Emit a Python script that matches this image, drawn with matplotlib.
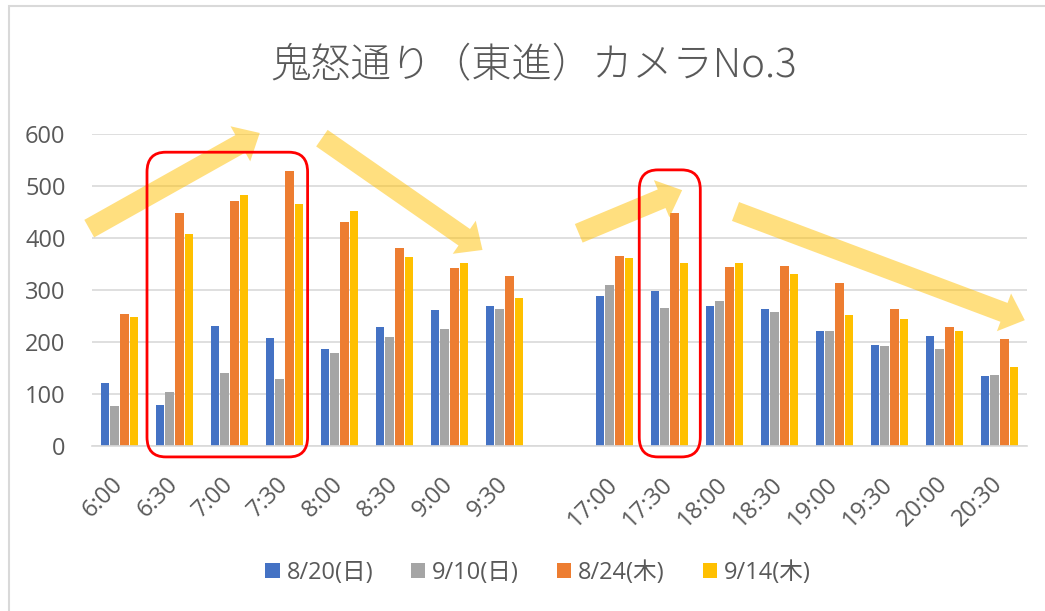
import numpy as np
import matplotlib.pyplot as plt
from matplotlib.patches import FancyBboxPatch, Rectangle

TXT = '#595959'; GRID = '#D9D9D9'
FONTS = ['Open Sans', 'Noto Sans CJK JP']
plt.rcParams['font.family'] = FONTS

times = ['6:00', '6:30', '7:00', '7:30', '8:00', '8:30', '9:00', '9:30', '',
         '17:00', '17:30', '18:00', '18:30', '19:00', '19:30', '20:00', '20:30']
series = ['8/20(日)', '9/10(日)', '8/24(木)', '9/14(木)']
colors = ['#4472C4', '#A5A5A5', '#ED7D31', '#FFC000']

nan = np.nan
aug20 = [121, 79, 231, 208, 186, 229, 261, 269, nan, 288, 299, 270, 263, 221, 195, 212, 135]
sep10 = [77, 103, 140, 128, 179, 209, 225, 263, nan, 309, 266, 279, 258, 222, 193, 187, 137]
aug24 = [253, 449, 472, 529, 431, 380, 343, 327, nan, 365, 448, 345, 347, 313, 263, 228, 206]
sep14 = [249, 408, 482, 465, 452, 364, 352, 284, nan, 361, 351, 352, 330, 252, 245, 222, 151]
values = [aug20, sep10, aug24, sep14]

# yellow trend arrows: (tail x, tail y, tip x, tip y) in category / count units
arrows = [(-0.55, 418, 2.55, 602), (3.68, 592, 6.60, 377),
          (8.35, 409, 10.23, 492), (11.20, 451, 16.46, 242)]
# red highlight boxes: (x0, x1, y0, y1)
boxes = [(0.50, 3.42, -21, 565), (9.45, 10.56, -21, 531)]

fig = plt.figure(figsize=(10.45, 6.11), dpi=100, facecolor='white')
ax = fig.add_axes([92/1045, 165/611, 935/1045, 312/611])

x = np.arange(len(times))
pitch = 0.18
for k, (name, vals, c) in enumerate(zip(series, values, colors)):
    ax.bar(x + (k - 1.5) * pitch, vals, width=0.15, color=c, label=name, zorder=2)

ax.set_xlim(-0.5, len(times) - 0.5)
ax.set_ylim(0, 600)
ax.set_yticks(range(0, 601, 100))
ax.yaxis.grid(True, color=GRID, lw=1.2, zorder=0)
ax.set_axisbelow(True)
for sp in ['top', 'right', 'left']:
    ax.spines[sp].set_visible(False)
ax.spines['bottom'].set_color(GRID)
ax.spines['bottom'].set_linewidth(1.2)
ax.set_xticks(x)
ax.set_xticklabels(times, rotation=45, ha='right', va='center', rotation_mode='anchor')
ax.tick_params(axis='x', length=0, pad=25, labelsize=17, labelcolor=TXT)
ax.tick_params(axis='y', length=0, pad=19, labelsize=17, labelcolor=TXT)

for tx, ty, hx, hy in arrows:
    ax.annotate('', xy=(hx, hy), xytext=(tx, ty), annotation_clip=False,
                arrowprops=dict(arrowstyle='simple,head_length=1.6,head_width=2.9,tail_width=1.45',
                                mutation_scale=10, fc='#FFC000', ec='none', alpha=0.5,
                                shrinkA=0, shrinkB=0), zorder=4)

for x0, x1, y0, y1 in boxes:
    r = 0.34
    asp = 38.0 / r
    ax.add_patch(FancyBboxPatch((x0, y0), x1 - x0, y1 - y0,
                                boxstyle=f'round,pad=0,rounding_size={r}',
                                mutation_aspect=asp, fill=False, ec='#FF0000',
                                lw=2, clip_on=False, zorder=5))

fig.text(534/1045, 1 - 66/611, '鬼怒通り（東進）カメラNo.3', ha='center', va='center',
         fontsize=29, fontweight='light', color=TXT,
         family=['Noto Sans CJK JP', 'DejaVu Sans'])

leg = fig.legend(loc='center', bbox_to_anchor=(538/1045, 1 - 573/611), ncol=4,
                 frameon=False, fontsize=17, handlelength=0.6, handleheight=0.6,
                 handletextpad=0.3, columnspacing=1.6)
for t in leg.get_texts():
    t.set_color(TXT)

fig.add_artist(Rectangle((9/1045, -0.1), 1.2, 1.1 - 6/611, transform=fig.transFigure,
                         fill=False, ec=GRID, lw=1.5))

fig.savefig('out.png', dpi=100, facecolor='white')
